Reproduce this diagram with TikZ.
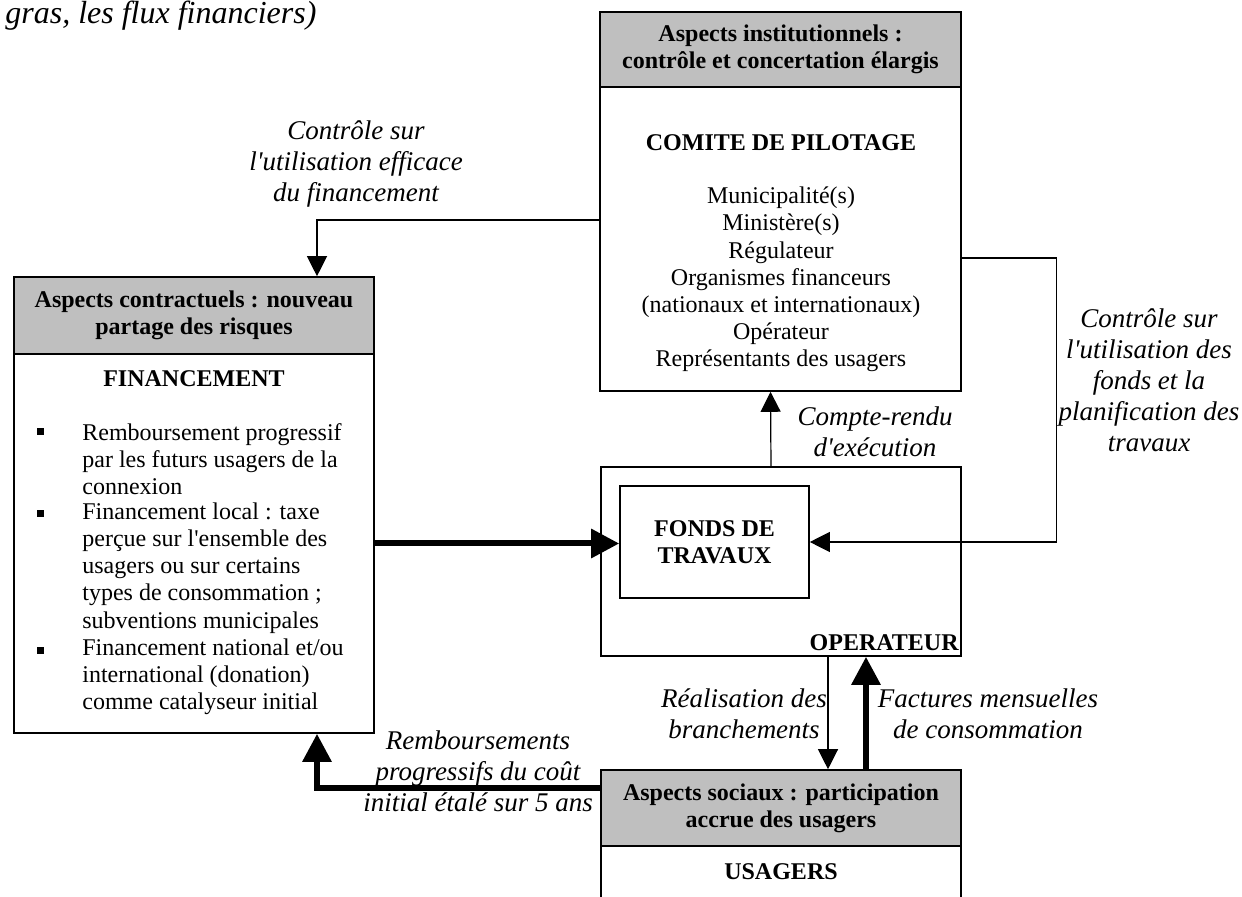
\documentclass[tikz,border=0pt]{standalone}
\usepackage{fontspec}
\setmainfont{Liberation Serif}
\usepackage{tikz}
\usetikzlibrary{arrows.meta}

\begin{document}
\begin{tikzpicture}[x=0.5pt,y=-0.5pt,
  boite/.style={draw,line width=0.8pt,inner sep=0pt},
  entete/.style={boite,fill=gray!50,align=center,font=\fontsize{12}{13.5}\selectfont\bfseries},
  titre/.style={align=center,font=\fontsize{12}{13.5}\selectfont\bfseries},
  liste/.style={align=center,font=\fontsize{12}{13.6}\selectfont},
  puce/.style={align=left,anchor=west,inner sep=0pt,font=\fontsize{12}{13.6}\selectfont},
  carre/.style={fill,inner sep=0pt,minimum size=3.5pt},
  legende/.style={align=center,font=\fontsize{13.5}{15.5}\selectfont\itshape},
  fleche/.style={line width=0.6pt,-{Triangle[length=10pt,width=10pt]}},
  grosse/.style={line width=3pt,-{Triangle[length=14pt,width=14pt]}}]
  \clip (0,0) rectangle (1242,897);

  %%%%%%% TITRE
  \node[legende,font=\fontsize{16}{18}\selectfont\itshape,anchor=base west,inner sep=0pt] (titre) at (5,24) {gras, les flux financiers)};

  %%%%%%% BOITES
  \node[entete,minimum width=180.5pt,minimum height=37.5pt] (instent) at (780.5,49.5) {Aspects institutionnels :\\contrôle et concertation élargis};
  \node[boite,minimum width=180.5pt,minimum height=152pt] (instcorps) at (780.5,239) {};
  \node[entete,minimum width=180pt,minimum height=38.5pt] (contratent) at (194,315.5) {Aspects contractuels : nouveau\\partage des risques};
  \node[boite,minimum width=180pt,minimum height=189.5pt] (contratcorps) at (194,543.5) {};
  \node[boite,minimum width=180pt,minimum height=94.5pt] (oper) at (781,561.5) {};
  \node[boite,titre,minimum width=94.5pt,minimum height=56pt] (fonds) at (714.5,542) {FONDS DE\\TRAVAUX};
  \node[entete,minimum width=180pt,minimum height=38pt] (socent) at (781,808) {Aspects sociaux : participation\\accrue des usagers};
  \node[boite,minimum width=180pt,minimum height=57pt] (soccorps) at (781,903) {};

  %%%%%%% TEXTES
  \node[titre] (comite) at (781,143) {COMITE DE PILOTAGE};
  \node[liste] (membres) at (781,279.5) {Municipalité(s)\\Ministère(s)\\Régulateur\\Organismes financeurs\\(nationaux et internationaux)\\Opérateur\\Représentants des usagers};
  \node[titre] (financement) at (194,379) {FINANCEMENT};
  \node[carre] (c1) at (40,432) {};
  \node[carre] (c2) at (40,514) {};
  \node[carre] (c3) at (40,650) {};
  \node[puce] (p1) at (82,459) {Remboursement progressif\\par les futurs usagers de la\\connexion};
  \node[puce] (p2) at (82,568) {Financement local : taxe\\perçue sur l\textquotesingle ensemble des\\usagers ou sur certains\\types de consommation ;\\subventions municipales};
  \node[puce] (p3) at (82,677) {Financement national et/ou\\international (donation)\\comme catalyseur initial};
  \node[titre,anchor=east,inner sep=0pt] (operateur) at (959,643) {OPERATEUR};
  \node[titre] (usagers) at (781,872) {USAGERS};

  %%%%%%% LEGENDES
  \node[legende] (ctrlfin) at (356,164) {Contrôle sur\\l\textquotesingle utilisation efficace\\du financement};
  \node[legende] (ctrlfonds) at (1149,380) {Contrôle sur\\l\textquotesingle utilisation des\\fonds et la\\planification des\\travaux};
  \node[legende] (compte) at (875,432) {Compte-rendu\\d\textquotesingle exécution};
  \node[legende] (realis) at (744,714) {Réalisation des\\branchements};
  \node[legende] (factures) at (988,714) {Factures mensuelles\\de consommation};
  \node[legende] (rembours) at (478,771) {Remboursements\\progressifs du coût\\initial étalé sur 5 ans};

  %%%%%%% FLECHES
  \draw[fleche] ([yshift=9.5pt]instcorps.west) -| ([xshift=61.5pt]contratent.north);
  \draw[fleche] ([yshift=-9.5pt]instcorps.east) -- ++(47.5pt,0) |- (fonds.east);
  \draw[fleche] ([xshift=-5pt]oper.north) -- ([xshift=-5pt]instcorps.south);
  \draw[grosse] (contratcorps.east) -- (contratcorps.east -| fonds.west);
  \draw[fleche] ([xshift=23.5pt]oper.south) -- ([xshift=23.5pt]socent.north);
  \draw[grosse] ([xshift=42.5pt]socent.north) -- ([xshift=42.5pt]oper.south);
  \draw[grosse] ([yshift=10pt]socent.west) -| ([xshift=61.5pt]contratcorps.south);
\end{tikzpicture}
\end{document}
